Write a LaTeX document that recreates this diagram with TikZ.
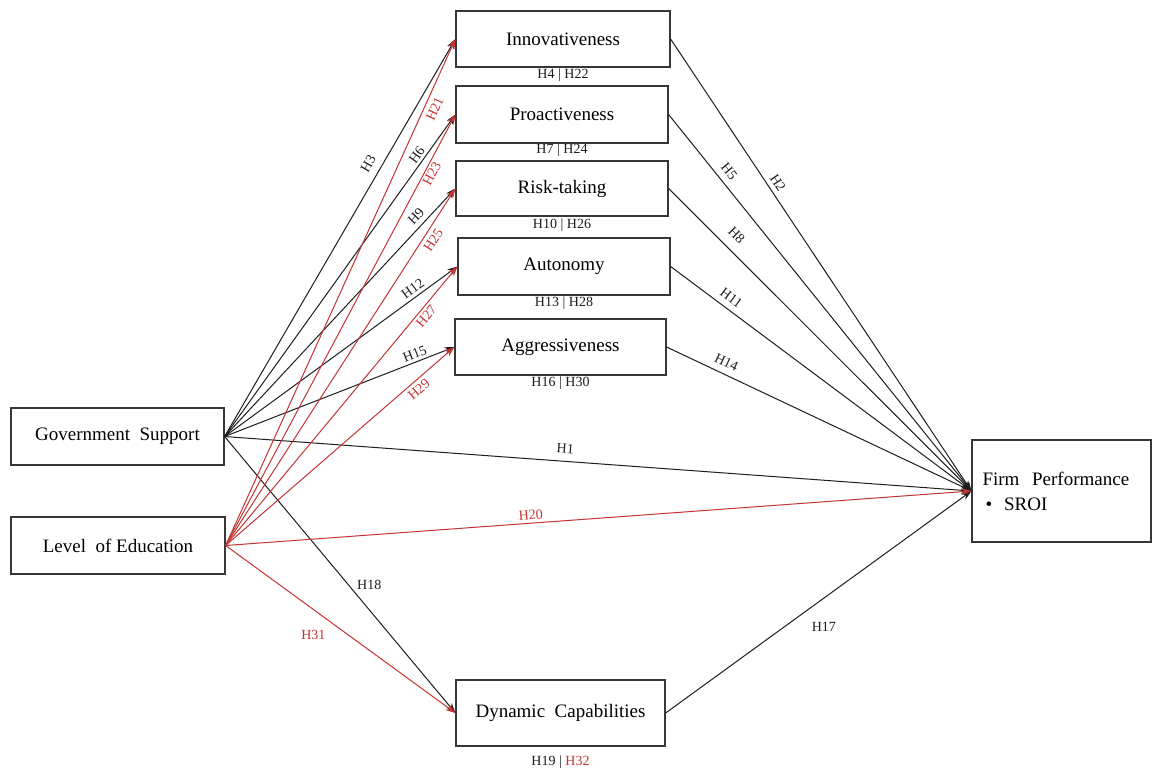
\documentclass[tikz,border=0pt]{standalone}
\usepackage{fontspec}
\setmainfont{Liberation Serif}
\usetikzlibrary{arrows.meta}
\definecolor{hred}{RGB}{196,52,52}
\definecolor{boxgray}{RGB}{55,55,55}
\definecolor{linegray}{RGB}{30,30,30}
\begin{document}
\begin{tikzpicture}[x=1pt,y=-1pt,
  box/.style={draw=boxgray, line width=1.2pt, fill=white, inner sep=0pt,
    font=\fontsize{19}{23}\selectfont},
  lab/.style={font=\fontsize{14}{16}\selectfont, text=linegray},
  rlab/.style={font=\fontsize{14}{16}\selectfont, text=hred},
  sl/.style={sloped, inner sep=1pt, outer sep=#1},
  blk/.style={draw=linegray, line width=1pt, -{Stealth[length=10pt,width=7pt]}},
  rarr/.style={draw=hred, line width=1pt, -{Stealth[length=10pt,width=7pt]}}
]
\fill[white] (0,0) rectangle (1152,772);
\useasboundingbox (0,0) rectangle (1152,772);

% boxes
\node[box, minimum width=214pt, minimum height=56pt] (inn) at (563,39) {Innovativeness};
\node[box, minimum width=212pt, minimum height=57pt] (pro) at (562,114.5) {Proactiveness};
\node[box, minimum width=212pt, minimum height=55pt] (risk) at (562,188.5) {Risk-taking};
\node[box, minimum width=212pt, minimum height=57pt] (aut) at (564,266.5) {Autonomy};
\node[box, minimum width=211pt, minimum height=56pt] (agg) at (560.5,347) {Aggressiveness};
\node[box, minimum width=213pt, minimum height=57pt] (gov) at (117.5,436.5) {Government~~Support};
\node[box, minimum width=214pt, minimum height=57pt] (edu) at (118,545.5) {Level~~of Education};
\node[box, minimum width=209pt, minimum height=66pt] (dc) at (560.5,713) {Dynamic~~Capabilities};
\node[box, minimum width=179pt, minimum height=102pt, align=left, text width=158pt,
  inner xsep=10.5pt, font=\fontsize{19}{25}\selectfont] (fp) at (1061.5,491)
  {Firm~~Performance\\\hspace*{3pt}\textbullet\hspace{12pt}SROI};

% labels under boxes
\node[lab] (linn) at ([yshift=-8pt]inn.south) {H4 | H22};
\node[lab] (lpro) at ([yshift=-7pt]pro.south) {H7 | H24};
\node[lab] (lrisk) at ([yshift=-9pt]risk.south) {H10 | H26};
\node[lab] (laut) at ([yshift=-8pt]aut.south) {H13 | H28};
\node[lab] (lagg) at ([yshift=-8pt]agg.south) {H16 | H30};
\node[lab] (ldc) at ([yshift=-16pt]dc.south) {H19 | \textcolor{hred}{H32}};

% government support paths
\draw[blk] (gov.east) -- node[lab, sl=7pt, above, pos=0.67] {H3} (inn.west);
\draw[blk] (gov.east) -- node[lab, sl=2pt, above, pos=0.86] {H6} (pro.west);
\draw[blk] (gov.east) -- node[lab, sl=4pt, above, pos=0.86] {H9} (risk.west);
\draw[blk] (gov.east) -- node[lab, sl=3pt, above, pos=0.83] {H12} (aut.west);
\draw[blk] (gov.east) -- node[lab, sl=2.5pt, above, pos=0.84] {H15} (agg.west);
\draw[blk] (gov.east) -- node[lab, sl=7pt, above, pos=0.455] {H1} (fp.west);
\draw[blk] (gov.east) -- node[lab, pos=0.536, anchor=west, xshift=5pt] {H18} (dc.west);

% mediators to firm performance
\draw[blk] (inn.east) -- node[lab, sl=4pt, above, pos=0.33] {H2} (fp.west);
\draw[blk] (pro.east) -- node[lab, sl=6pt, above, pos=0.17] {H5} (fp.west);
\draw[blk] (risk.east) -- node[lab, sl=9pt, above, pos=0.19] {H8} (fp.west);
\draw[blk] (aut.east) -- node[lab, sl=5.5pt, above, pos=0.18] {H11} (fp.west);
\draw[blk] (agg.east) -- node[lab, sl=6pt, above, pos=0.18] {H14} (fp.west);
\draw[blk] (dc.east) -- node[lab, pos=0.387, anchor=west, xshift=24pt] {H17} (fp.west);

% level of education paths
\draw[rarr] (edu.east) -- node[rlab, sl=4.5pt, below, pos=0.87] {H21} (inn.west);
\draw[rarr] (edu.east) -- node[rlab, sl=1.5pt, below, pos=0.87] {H23} (pro.west);
\draw[rarr] (edu.east) -- node[rlab, sl=3.5pt, below, pos=0.87] {H25} (risk.west);
\draw[rarr] (edu.east) -- node[rlab, sl=2pt, below, pos=0.84] {H27} (aut.west);
\draw[rarr] (edu.east) -- node[rlab, sl=3pt, below, pos=0.82] {H29} (agg.west);
\draw[rarr] (edu.east) -- node[rlab, sl=2.5pt, above, pos=0.41] {H20} (fp.west);
\draw[rarr] (edu.east) -- node[rlab, pos=0.534, anchor=east, xshift=-19pt] {H31} (dc.west);
\end{tikzpicture}
\end{document}
